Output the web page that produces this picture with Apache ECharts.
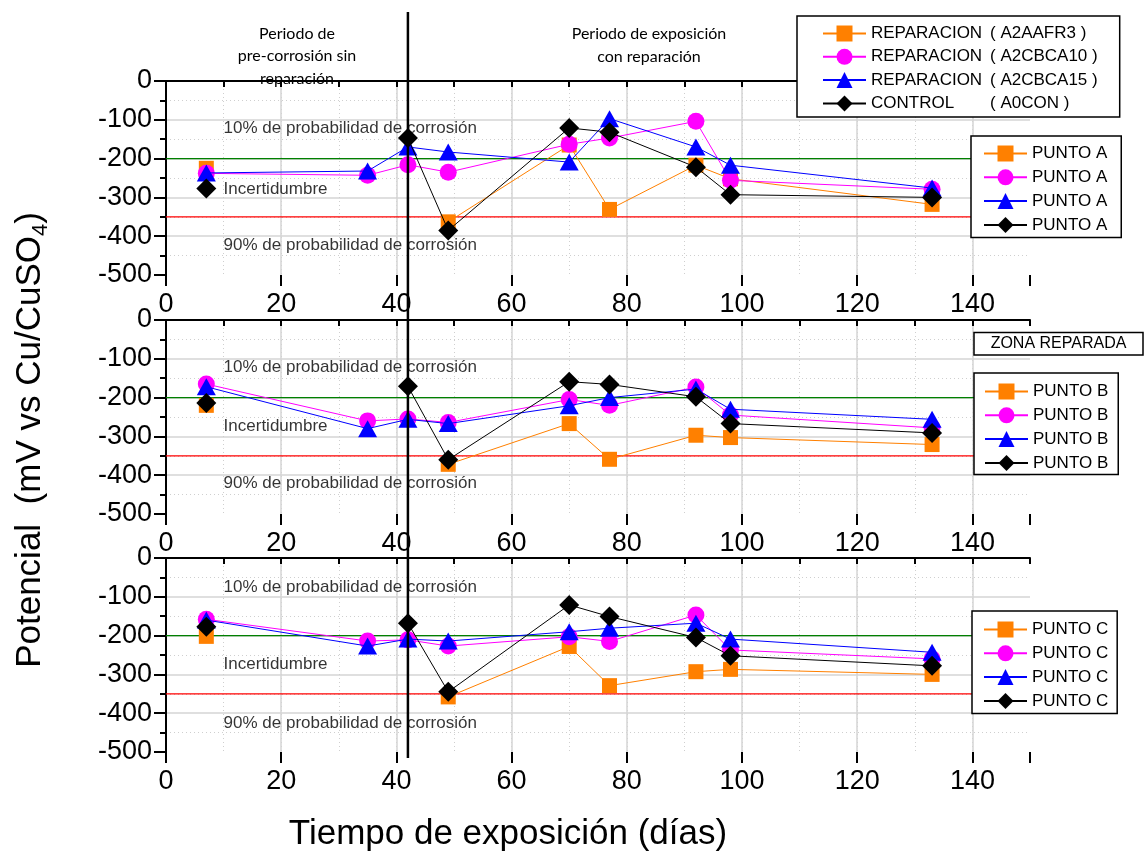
<!DOCTYPE html>
<html>
<head>
<meta charset="utf-8">
<title>Potencial vs tiempo de exposición</title>
<script src="https://cdn.jsdelivr.net/npm/echarts@6/dist/echarts.min.js"></script>
<style>
  html, body { margin: 0; padding: 0; background: #fff; }
  #chart { width: 1145px; height: 853px; }
</style>
</head>
<body>
<div id="chart"></div>
<script>
  // dias de medicion
  var dias = [7, 35, 42, 49, 70, 77, 92, 98, 133];

  // PUNTO A (mV vs Cu/CuSO4), null = sin medicion
  var a2aafr3A = [-225, null, null, -363, -165, -331, -217, -252, -318];
  var a2cbca10A = [-238, -243, -216, -235, -163, -147, -104, -256, -279];
  var a2cbca15A = [-237, -232, -170, -183, -209, -97, -170, -217, -276];
  var a0conA = [-277, null, -147, -385, -121, -132, -222, -293, -300];

  // PUNTO B
  var a2aafr3B = [-220, null, null, -372, -267, -359, -297, -303, -321];
  var a2cbca10B = [-165, -260, -255, -264, -205, -220, -173, -245, -278];
  var a2cbca15B = [-172, -280, -256, -267, -221, -200, -178, -230, -256];
  var a0conB = [-214, null, -171, -360, -159, -166, -198, -267, -291];

  // PUNTO C
  var a2aafr3C = [-202, null, null, -358, -228, -329, -293, -287, -300];
  var a2cbca10C = [-158, -214, -211, -227, -203, -215, -147, -237, -260];
  var a2cbca15C = [-160, -227, -209, -214, -190, -181, -168, -209, -243];
  var a0conC = [-177, null, -168, -345, -121, -151, -205, -252, -278];

  // limites ASTM C876
  var limite10 = -200;
  var limite90 = -350;
  var diaReparacion = 42;
  var xMin = 0, xMax = 150;

  // textos dentro de cada panel
  var notasTexto = ['10% de probabilidad de corrosión', 'Incertidumbre', '90% de probabilidad de corrosión'];
  var notasX = 10;
  var notasY = [[-123, -278, -423], [-123, -274, -420], [-76, -274, -425]];

  var xTicks = [0, 20, 40, 60, 80, 100, 120, 140];

  var puntos = ['A', 'B', 'C'];
  var valores = [
    [a2aafr3A, a2cbca10A, a2cbca15A, a0conA],
    [a2aafr3B, a2cbca10B, a2cbca15B, a0conB],
    [a2aafr3C, a2cbca10C, a2cbca15C, a0conC]
  ];
  var probetas = [
    { key: 'A2AAFR3', tipo: 'REPARACION', color: '#FF8000', symbol: 'rect', size: 15 },
    { key: 'A2CBCA10', tipo: 'REPARACION', color: '#FF00FF', symbol: 'circle', size: 17 },
    { key: 'A2CBCA15', tipo: 'REPARACION', color: '#0000FF', symbol: 'triangle', size: [19, 17] },
    { key: 'A0CON', tipo: 'CONTROL', color: '#000000', symbol: 'diamond', size: [20, 20] }
  ];

  var FONT = 'Liberation Sans, Arial, sans-serif';

  var gridTops = [81, 320, 558];
  var grids = [], xAxes = [], yAxes = [], series = [], legends = [];

  function limite(nombre, p, valor, color) {
    return {
      name: nombre, type: 'line', xAxisIndex: p * 2, yAxisIndex: p,
      data: [[xMin, valor], [xMax, valor]],
      symbol: 'none', silent: true, animation: false, z: 2,
      lineStyle: { color: color, width: 1.2 }
    };
  }

  gridTops.forEach(function (top, p) {
    grids.push({ left: 166, width: 864, top: top, height: 194 });
    // eje con divisiones cada 10 (punteadas)
    xAxes.push({
      gridIndex: p, type: 'value', min: xMin, max: xMax, interval: 10,
      axisLine: { lineStyle: { color: '#000', width: 2 } },
      axisTick: { length: 6, lineStyle: { color: '#000', width: 2 } },
      axisLabel: {
        margin: 16, color: '#000', fontSize: 27, fontFamily: FONT,
        formatter: function (v) { return xTicks.indexOf(v) >= 0 ? String(v) : ''; }
      },
      splitLine: { show: true, showMaxLine: false, lineStyle: { color: '#cfcfcf', width: 1, type: [1, 3] } }
    });
    // eje con divisiones principales cada 20
    xAxes.push({
      gridIndex: p, type: 'value', min: xMin, max: xMax, interval: 20, position: 'bottom',
      axisLine: { show: false },
      axisTick: { length: 11, lineStyle: { color: '#000', width: 2 } },
      axisLabel: { show: false },
      splitLine: { show: true, showMaxLine: false, showMinLine: false, lineStyle: { color: '#d4d4d4', width: 1.5 } }
    });
    yAxes.push({
      gridIndex: p, type: 'value', min: -500, max: 0, interval: 100,
      axisLine: { show: true, lineStyle: { color: '#000', width: 2 } },
      axisTick: { show: true, length: 12, lineStyle: { color: '#000', width: 2 } },
      minorTick: { show: true, splitNumber: 2, length: 6, lineStyle: { color: '#000', width: 2 } },
      axisLabel: { margin: 14, color: '#000', fontSize: 27, fontFamily: FONT },
      splitLine: { show: true, showMaxLine: false, showMinLine: false, lineStyle: { color: '#d4d4d4', width: 1.5 } },
      minorSplitLine: { show: true, lineStyle: { color: '#cfcfcf', width: 1, type: [1, 3] } }
    });

    series.push(limite('10% ' + puntos[p], p, limite10, '#008000'));
    series.push(limite('90% ' + puntos[p], p, limite90, '#FF0000'));

    var nombres = [];
    probetas.forEach(function (pr, k) {
      var nombre = pr.key + ' ' + puntos[p];
      nombres.push(nombre);
      series.push({
        name: nombre, type: 'line', xAxisIndex: p * 2, yAxisIndex: p,
        data: dias.map(function (d, i) {
          var v = valores[p][k][i];
          return [d, v === null ? '-' : v];
        }),
        symbol: pr.symbol, symbolSize: pr.size, showSymbol: true,
        itemStyle: { color: pr.color, opacity: 1 },
        lineStyle: { color: pr.color, width: 1 },
        connectNulls: false, animation: false, z: 3 + k
      });
    });

    series.push({
      name: 'notas ' + puntos[p], type: 'scatter', xAxisIndex: p * 2, yAxisIndex: p,
      symbolSize: 0, silent: true, animation: false, z: 2,
      label: { show: true, position: 'right', distance: 0, color: '#000', fontSize: 17, fontFamily: FONT,
        formatter: function (prm) { return prm.name; } },
      data: notasTexto.map(function (t, i) { return { name: t, value: [notasX, notasY[p][i]] }; })
    });

    legends.push({ names: nombres });
  });

  var legendBase = {
    orient: 'vertical', selectedMode: false, backgroundColor: '#fff',
    borderColor: '#000', borderWidth: 1.5, itemWidth: 43, itemHeight: 20,
    textStyle: { color: '#000', fontSize: 17, fontFamily: FONT }
  };
  function mk(extra) { return Object.assign({}, legendBase, extra); }

  var legendOpts = [
    mk({
      left: 797, top: 16, padding: [9, 22, 5, 25], itemGap: 6.3, data: legends[0].names,
      formatter: function (n) {
        var pr = probetas[legends[0].names.indexOf(n)];
        return '{a|' + pr.tipo + '}{b|( ' + pr.key + ' )}';
      },
      textStyle: { color: '#000', fontSize: 17, fontFamily: FONT,
        rich: { a: { width: 119, fontSize: 17, fontFamily: FONT, color: '#000' },
                b: { fontSize: 17, fontFamily: FONT, color: '#000' } } }
    }),
    mk({ left: 971, top: 136, padding: [9, 14, 4, 12], itemGap: 6.8, data: legends[0].names,
      formatter: function () { return 'PUNTO A'; } }),
    mk({ left: 974, top: 373, padding: [10, 10, 3, 10], itemGap: 6.8, data: legends[1].names,
      formatter: function () { return 'PUNTO B'; } }),
    mk({ left: 972, top: 611, padding: [10, 9, 4, 11], itemGap: 6.8, data: legends[2].names,
      formatter: function () { return 'PUNTO C'; } })
  ];

  var chart = echarts.init(document.getElementById('chart'));
  chart.setOption({
    animation: false,
    backgroundColor: '#fff',
    grid: grids, xAxis: xAxes, yAxis: yAxes,
    legend: legendOpts,
    series: series
  });

  // linea vertical del dia de reparacion, cruza los tres paneles
  var xRep = chart.convertToPixel({ xAxisIndex: 0 }, diaReparacion);
  var HEADFONT = 'Lato, Noto Sans, sans-serif';

  chart.setOption({
    graphic: [
      { type: 'line', z: 100, shape: { x1: xRep, y1: 12, x2: xRep, y2: 758 },
        style: { stroke: '#000', lineWidth: 2.5 } },
      { type: 'text', x: 297, y: 22.5, style: { text: 'Periodo de\npre-corrosión sin\nreparación', font: '16px ' + HEADFONT,
        fill: '#000', align: 'center', verticalAlign: 'top', lineHeight: 22.5 }, z: 50 },
      { type: 'text', x: 649, y: 22.5, style: { text: 'Periodo de exposición\ncon reparación', font: '16px ' + HEADFONT,
        fill: '#000', align: 'center', verticalAlign: 'top', lineHeight: 23 }, z: 50 },
      { type: 'rect', shape: { x: 974, y: 332.5, width: 169, height: 22.5 }, z: 50,
        style: { fill: '#fff', stroke: '#000', lineWidth: 1.5 } },
      { type: 'text', x: 1058.5, y: 344, z: 51, style: { text: 'ZONA REPARADA', font: '16px ' + FONT,
        fill: '#000', align: 'center', verticalAlign: 'middle' } },
      { type: 'text', x: 508, y: 834, z: 50, style: { text: 'Tiempo de exposición (días)', font: '35px ' + FONT,
        fill: '#000', align: 'center', verticalAlign: 'middle' } },
      { type: 'text', x: 30, y: 440, rotation: Math.PI / 2, z: 50,
        style: {
          text: '{a|Potencial  (mV vs Cu/CuSO}{s|4}{a|)}', align: 'center', verticalAlign: 'middle',
          rich: {
            a: { fontSize: 35, fontFamily: FONT, fill: '#000', lineHeight: 44 },
            s: { fontSize: 22, fontFamily: FONT, fill: '#000', lineHeight: 44, verticalAlign: 'bottom' }
          }
        } }
    ]
  });
</script>
</body>
</html>
